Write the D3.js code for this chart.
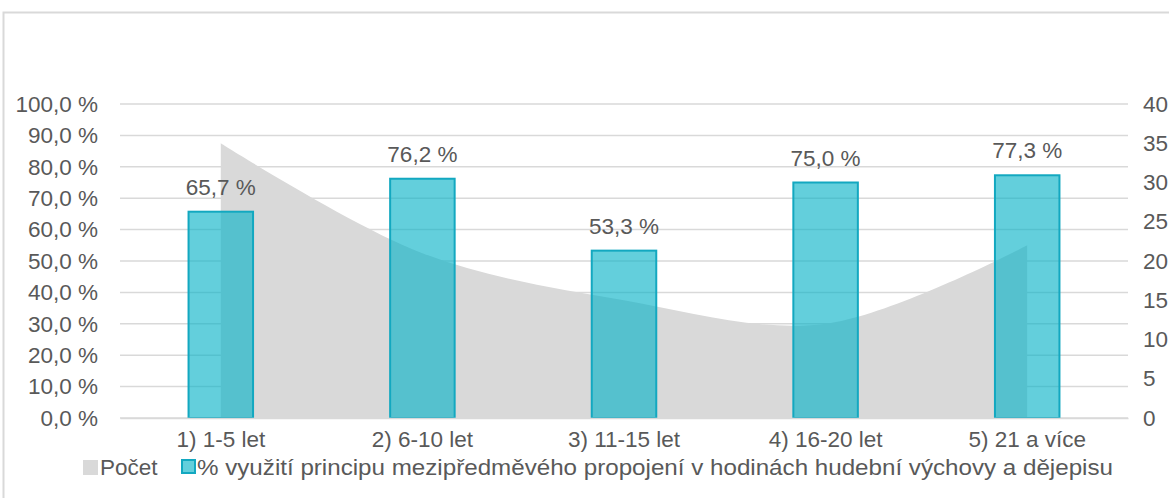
<!DOCTYPE html>
<html>
<head>
<meta charset="utf-8">
<script src="https://cdn.jsdelivr.net/npm/d3@7"></script>
<style>
  body { margin: 0; background: #fff; }
  svg text { font-family: "Liberation Sans", Arial, sans-serif; fill: #595959; }
</style>
</head>
<body>
<svg id="chart" width="1169" height="498"></svg>
<script>
// data
const categories = ['1) 1-5 let', '2) 6-10 let', '3) 11-15 let', '4) 16-20 let', '5) 21 a více'];
const counts = [35, 21, 15, 12, 22];
const percents = [65.7, 76.2, 53.3, 75.0, 77.3];
const leftTicks = [0, 10, 20, 30, 40, 50, 60, 70, 80, 90, 100];
const rightTicks = [0, 5, 10, 15, 20, 25, 30, 35, 40];
const legendLabels = ['Počet', '% využití principu mezipředměvého propojení v hodinách hudební výchovy a dějepisu'];

const svg = d3.select('#chart');
const plot = { left: 120, right: 1128, top: 104, bottom: 418 };
const fs = 22.5;

const fmt = v => v.toFixed(1).replace('.', ',') + '\u00a0%';

// chart frame
svg.append('rect')
    .attr('x', 3.5).attr('y', 12.5)
    .attr('width', 1200).attr('height', 600)
    .attr('fill', 'none')
    .attr('stroke', '#d9d9d9')
    .attr('stroke-width', 2);

const x = d3.scaleBand()
    .domain(categories)
    .range([plot.left, plot.right])
    .paddingInner(0.68)
    .paddingOuter(0.34);

const yLeft = d3.scaleLinear().domain([0, 100]).range([plot.bottom, plot.top]);
const yRight = d3.scaleLinear().domain([0, 40]).range([plot.bottom, plot.top]);

// gridlines
svg.append('g')
    .selectAll('line')
    .data(leftTicks)
    .join('line')
    .attr('x1', plot.left).attr('x2', plot.right)
    .attr('y1', d => yLeft(d)).attr('y2', d => yLeft(d))
    .attr('stroke', '#d9d9d9')
    .attr('stroke-width', 1.5);

// area (Počet)
const cx = c => x(c) + x.bandwidth() / 2;
const area = d3.area()
    .x((d, i) => cx(categories[i]))
    .y0(plot.bottom)
    .y1(d => yRight(d))
    .curve(d3.curveCatmullRom.alpha(0.5));

svg.append('path')
    .datum(counts)
    .attr('d', area)
    .attr('fill', '#d9d9d9');

// bars
svg.append('g')
    .selectAll('rect')
    .data(percents)
    .join('rect')
    .attr('x', (d, i) => x(categories[i]))
    .attr('y', d => yLeft(d))
    .attr('width', x.bandwidth())
    .attr('height', d => plot.bottom - yLeft(d))
    .attr('fill', 'rgba(11,180,201,0.64)')
    .attr('stroke', '#13a8c0')
    .attr('stroke-width', 2);

// bar labels
svg.append('g')
    .selectAll('text')
    .data(percents)
    .join('text')
    .attr('x', (d, i) => cx(categories[i]))
    .attr('y', d => yLeft(d) - 17)
    .attr('text-anchor', 'middle')
    .attr('font-size', fs)
    .text(d => fmt(d));

// left axis
const axisL = d3.axisLeft(yLeft).tickValues(leftTicks).tickFormat(fmt).tickSize(0).tickPadding(0);
svg.append('g')
    .attr('transform', `translate(98,0)`)
    .call(axisL)
    .call(g => g.select('.domain').remove())
    .call(g => g.selectAll('text').attr('font-size', fs).attr('fill', '#595959')
        .style('font-family', '"Liberation Sans", Arial, sans-serif'));

// right axis
const axisR = d3.axisRight(yRight).tickValues(rightTicks).tickSize(0).tickPadding(0);
svg.append('g')
    .attr('transform', `translate(1143,0)`)
    .call(axisR)
    .call(g => g.select('.domain').remove())
    .call(g => g.selectAll('text').attr('font-size', fs).attr('fill', '#595959')
        .style('font-family', '"Liberation Sans", Arial, sans-serif'));

// category labels
const axisB = d3.axisBottom(x).tickSize(0).tickPadding(0);
svg.append('g')
    .attr('transform', `translate(0,${plot.bottom})`)
    .call(axisB)
    .call(g => g.select('.domain').attr('stroke', '#d9d9d9').attr('stroke-width', 1.5))
    .call(g => g.selectAll('text').attr('font-size', fs).attr('fill', '#595959')
        .attr('dy', 0).attr('y', 29)
        .style('font-family', '"Liberation Sans", Arial, sans-serif'));

// legend
const legend = svg.append('g');
legend.append('rect')
    .attr('x', 83).attr('y', 460).attr('width', 15).attr('height', 15)
    .attr('fill', '#d9d9d9');
legend.append('text')
    .attr('x', 100).attr('y', 475)
    .attr('font-size', fs)
    .text(legendLabels[0]);
legend.append('rect')
    .attr('x', 182).attr('y', 460).attr('width', 13).attr('height', 13)
    .attr('fill', 'rgba(11,180,201,0.64)')
    .attr('stroke', '#13a8c0')
    .attr('stroke-width', 2);
legend.append('text')
    .attr('x', 197).attr('y', 475)
    .attr('font-size', fs)
    .attr('textLength', 916)
    .attr('lengthAdjust', 'spacingAndGlyphs')
    .text(legendLabels[1]);
</script>
</body>
</html>
